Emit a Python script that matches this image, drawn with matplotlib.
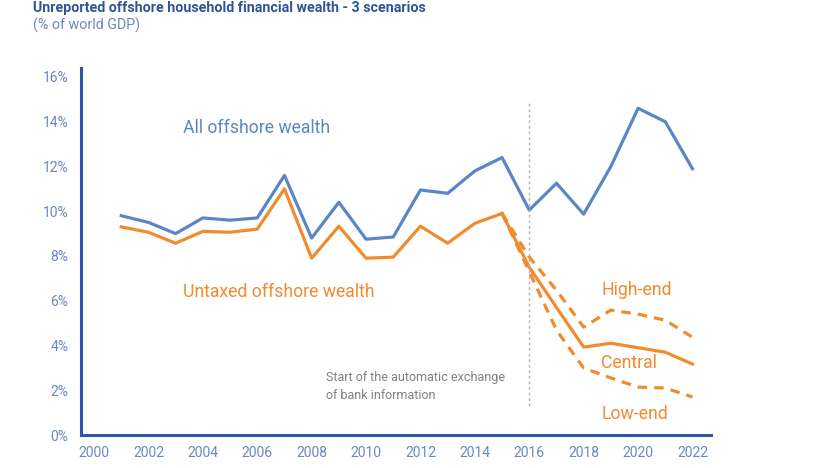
import matplotlib
matplotlib.use("Agg")
import matplotlib.pyplot as plt

plt.rcParams['font.family'] = ['Roboto', 'DejaVu Sans']

years = list(range(2001, 2023))
all_offshore = [9.8, 9.5, 9.0, 9.7, 9.6, 9.7, 11.6, 8.8, 10.4, 8.75, 8.85,
                10.95, 10.8, 11.8, 12.4, 10.05, 11.25, 9.87, 12.0, 14.6, 14.0, 11.9]
untaxed = [9.3, 9.06, 8.57, 9.1, 9.06, 9.2, 11.0, 7.9, 9.33, 7.9, 7.95,
           9.33, 8.57, 9.46, 9.9]

scen_years = list(range(2015, 2023))
central = [9.9, 7.5, 5.7, 3.93, 4.1, 3.9, 3.7, 3.17]
high_end = [9.9, 7.95, 6.47, 4.82, 5.58, 5.4, 5.13, 4.37]
low_end = [9.9, 7.3, 4.69, 2.99, 2.55, 2.14, 2.1, 1.7]

blue = '#5b86c5'
orange = '#f28a2e'
axis_col = '#2e58a6'
tick_col = '#6a88c0'

fig = plt.figure(figsize=(8.13, 4.68), dpi=100)
ax = fig.add_axes([0.0996, 0.0705, 0.7749, 0.7842])

ax.plot(years, all_offshore, color=blue, lw=2.3)
ax.plot(years[:len(untaxed)], untaxed, color=orange, lw=2.3)
ax.plot(scen_years, central, color=orange, lw=2.3)
ax.plot(scen_years, high_end, color=orange, lw=2.3, ls=(0, (3, 2.2)))
ax.plot(scen_years, low_end, color=orange, lw=2.3, ls=(0, (3, 2.2)))

# start of automatic exchange of information
ax.plot([2016, 2016], [1.3, 14.9], color='#b5b5b5', lw=1, ls=(0, (2, 2)))

ax.set_xlim(1999.52, 2022.68)
ax.set_ylim(0, 16.4)
ax.set_xticks(range(2000, 2023, 2))
ax.set_yticks(range(0, 17, 2))
ax.set_yticklabels([f'{v}%' for v in range(0, 17, 2)])
ax.tick_params(length=0, colors=tick_col, labelsize=10)
ax.tick_params(axis='x', pad=8)
ax.tick_params(axis='y', pad=9)

for s in ['top', 'right']:
    ax.spines[s].set_visible(False)
for s in ['left', 'bottom']:
    ax.spines[s].set_color(axis_col)
    ax.spines[s].set_linewidth(2.2)

ax.text(2003.27, 13.7, 'All offshore wealth', color=blue, fontsize=12.7, va='center')
ax.text(2003.27, 6.4, 'Untaxed offshore wealth', color=orange, fontsize=12.7, va='center')
ax.text(2018.64, 6.5, 'High-end', color=orange, fontsize=12.7, va='center')
ax.text(2018.64, 3.2, 'Central', color=orange, fontsize=12.7, va='center')
ax.text(2018.64, 0.95, 'Low-end', color=orange, fontsize=12.7, va='center')
ax.text(2008.53, 2.15, 'Start of the automatic exchange\nof bank information',
        color='#808080', fontsize=9, va='center', linespacing=1.5)

fig.text(0.041, 0.997, 'Unreported offshore household financial wealth - 3 scenarios',
         color='#2f5597', fontsize=10.3, fontweight='bold', va='top')
fig.text(0.041, 0.962, '(% of world GDP)', color='#6a88c0', fontsize=10.3, va='top')

fig.savefig('out.png', dpi=100)
